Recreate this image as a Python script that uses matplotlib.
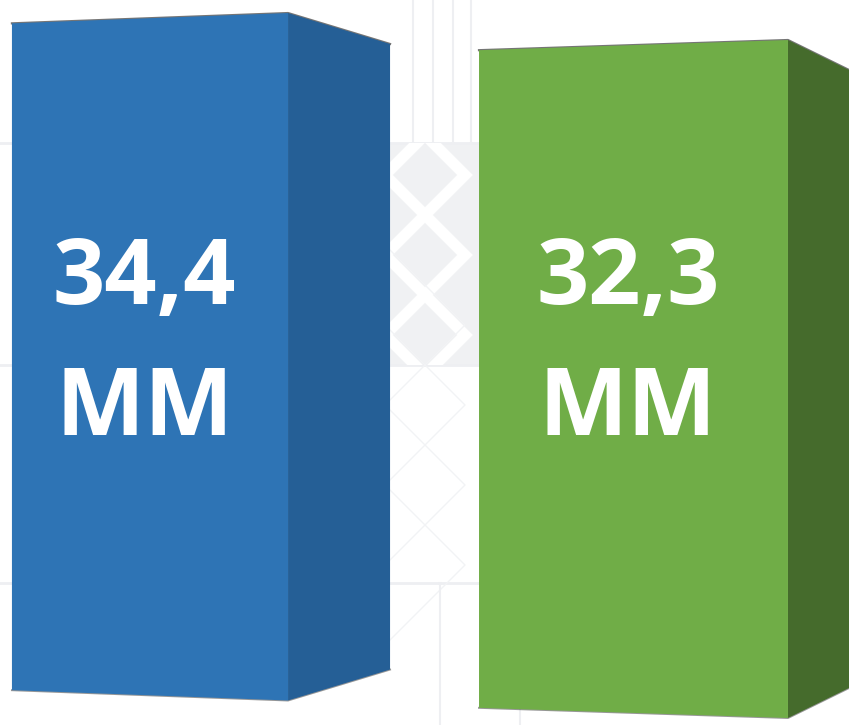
import matplotlib.pyplot as plt
from matplotlib.patches import Polygon, Rectangle

# data
values = [34.4, 32.3]
labels = ['34,4', '32,3']
unit = 'MM'
positions = [0, 1]

# style
front_colors = ['#2E74B5', '#70AD47']
side_colors = ['#255F96', '#456B2C']
widths = [0.571, 0.639]
depths = [0.211, 0.207]
side_shrink = [0.91, 0.855]
front_shrink = 0.97
FLOOR = -118     # base of the 3d bars
TILT = 3.88      # perspective drop per category step
pattern_col = '#EEEFF2'

fig = plt.figure(figsize=(8.49, 7.25), dpi=100)

# faint background tile pattern (pixel coords)
bg = fig.add_axes([0, 0, 1, 1])
bg.set_xlim(0, 849)
bg.set_ylim(725, 0)
bg.axis('off')
for yy in [143, 365, 583]:
    bg.plot([0, 849], [yy, yy], color=pattern_col, lw=2)
for xx in [413, 433, 453, 471]:
    bg.plot([xx, xx], [0, 143], color=pattern_col, lw=1.5)
block = Rectangle((390, 143), 90, 222, color='#F0F1F3', lw=0)
bg.add_patch(block)
for k in range(-2, 4):
    y0 = 150 + 80 * k
    ln, = bg.plot([380, 465, 380], [y0 - 60, y0 + 25, y0 + 110], color='white', lw=8,
                  solid_joinstyle='miter')
    ln.set_clip_path(block)
for k in range(-1, 3):
    y0 = 380 + 80 * k
    ln, = bg.plot([380, 465, 380], [y0 - 60, y0 + 25, y0 + 110], color='#F2F3F5', lw=1)
for xx in [440, 520]:
    bg.plot([xx, xx], [583, 725], color=pattern_col, lw=1.5)

# bars
ax = fig.add_axes([0, 0, 1, 1])
ax.set_xlim(-0.3102, 1.4457)
ax.set_ylim(-123.43, 37.29)
ax.axis('off')
ax.patch.set_alpha(0)

for i, v in enumerate(values):
    c = positions[i]
    w = widths[i]
    d = depths[i]
    off = -TILT * c
    xl, xr = c - w / 2, c + w / 2
    mid = (v + FLOOR) / 2
    half = (v - FLOOR) / 2
    fl_bot = mid - half * front_shrink + off
    fl_top = mid + half * front_shrink + off
    sd_bot = mid - half * side_shrink[i] + off
    sd_top = mid + half * side_shrink[i] + off
    bot = FLOOR + off
    top = v + off
    # soft dark edge along the top and bottom
    ax.plot([xl, xr, xr + d], [fl_top, top, sd_top], color='#1A1A1A', lw=1.6,
            alpha=0.6, solid_joinstyle='round', zorder=1)
    ax.plot([xl, xr, xr + d], [fl_bot, bot, sd_bot], color='#1A1A1A', lw=1.4,
            alpha=0.45, solid_joinstyle='round', zorder=1)
    front = [(xl, fl_bot), (xr, bot), (xr, top), (xl, fl_top)]
    side = [(xr, bot), (xr + d, sd_bot), (xr + d, sd_top), (xr, top)]
    ax.add_patch(Polygon(side, closed=True, facecolor=side_colors[i], edgecolor='none', zorder=2))
    ax.add_patch(Polygon(front, closed=True, facecolor=front_colors[i], edgecolor='none', zorder=3))

    ax.text(c - 0.012, 0.5807, labels[i], transform=ax.get_xaxis_transform(),
            ha='center', va='baseline', color='white', fontsize=66, fontweight='bold',
            family=['Open Sans', 'DejaVu Sans'], zorder=4)
    ax.text(c - 0.012, 0.40, unit, transform=ax.get_xaxis_transform(),
            ha='center', va='baseline', color='white', fontsize=68, fontweight='bold',
            family=['Open Sans', 'DejaVu Sans'], zorder=4)

fig.savefig('out.png', dpi=100)
